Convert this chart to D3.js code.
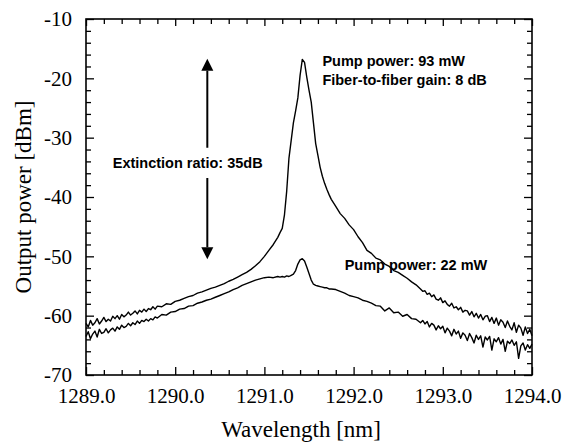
<!DOCTYPE html>
<html>
<head>
<meta charset="utf-8">
<script src="https://cdn.jsdelivr.net/npm/d3@7"></script>
<style>
  html, body { margin: 0; padding: 0; background: #fff; }
  svg { display: block; }
</style>
</head>
<body>
<div id="chart"></div>
<script>
// wavelength samples [nm] (denser in the noisy tails and around the gain peak)
const wavelength = [
  1289.000, 1289.025, 1289.050, 1289.075, 1289.100, 1289.125, 1289.150, 1289.175, 1289.200, 1289.225,
  1289.250, 1289.275, 1289.300, 1289.325, 1289.350, 1289.375, 1289.400, 1289.425, 1289.450, 1289.475,
  1289.500, 1289.525, 1289.550, 1289.575, 1289.600, 1289.625, 1289.650, 1289.675, 1289.700, 1289.725,
  1289.750, 1289.775, 1289.800,
  1289.85, 1289.90, 1289.95, 1290.00, 1290.05, 1290.10, 1290.15, 1290.20, 1290.25, 1290.30,
  1290.35, 1290.40, 1290.45, 1290.50, 1290.55, 1290.60, 1290.65, 1290.70, 1290.75, 1290.80,
  1290.85, 1290.90, 1290.95, 1291.00, 1291.05, 1291.10, 1291.15,
  1291.175, 1291.200, 1291.225, 1291.250, 1291.275, 1291.300, 1291.325, 1291.350,
  1291.375, 1291.400, 1291.425, 1291.450, 1291.475, 1291.500, 1291.525, 1291.550,
  1291.575, 1291.600, 1291.625, 1291.650, 1291.675, 1291.700, 1291.725, 1291.750,
  1291.80, 1291.85, 1291.90, 1291.95, 1292.00, 1292.05, 1292.10, 1292.15, 1292.20, 1292.25,
  1292.30, 1292.35, 1292.40, 1292.45, 1292.50, 1292.55, 1292.60, 1292.65, 1292.70, 1292.75,
  1292.775, 1292.800, 1292.825, 1292.850, 1292.875, 1292.900, 1292.925, 1292.950, 1292.975,
  1293.000, 1293.025, 1293.050, 1293.075, 1293.100, 1293.125, 1293.150, 1293.175, 1293.200, 1293.225,
  1293.250, 1293.275, 1293.300, 1293.325, 1293.350, 1293.375, 1293.400, 1293.425, 1293.450, 1293.475,
  1293.500, 1293.525, 1293.550, 1293.575, 1293.600, 1293.625, 1293.650, 1293.675, 1293.700, 1293.725,
  1293.750, 1293.775, 1293.800, 1293.825, 1293.850, 1293.875, 1293.900, 1293.925, 1293.950, 1293.975,
  1294.000
];

// output power [dBm], pump 93 mW
const power93 = [
  -61.3, -61.9, -60.8, -61.6, -61.2, -60.5, -61.4, -60.9, -60.3, -61.0,
  -60.6, -60.9, -60.1, -60.5, -60.0, -60.6, -59.8, -60.2, -59.9, -59.4,
  -59.9, -59.6, -59.2, -59.7, -59.1, -59.4, -58.9, -59.3, -58.8, -59.0,
  -58.5, -58.9, -58.4,
  -58.5, -58.0, -58.1, -57.6, -57.4, -57.1, -56.8, -56.6, -56.2, -56.0,
  -55.7, -55.4, -55.2, -54.9, -54.6, -54.2, -53.9, -53.5, -53.1, -52.7,
  -52.2, -51.6, -50.9, -50.0, -49.0, -48.0, -46.8,
  -46.0, -45.3, -43.0, -39.0, -33.5, -30.5, -27.5, -25.5,
  -23.3, -19.5, -16.8, -17.3, -19.8, -22.0, -24.0, -27.5,
  -31.0, -33.0, -35.0, -36.5, -37.7, -38.7, -39.6, -40.4,
  -41.6, -42.8, -43.6, -44.7, -45.5, -46.7, -47.7, -49.0, -49.5, -50.3,
  -50.6, -51.3, -51.7, -52.4, -52.7, -53.2, -53.7, -54.3, -54.8, -55.5,
  -55.9, -55.8, -56.4, -56.2, -56.8, -56.5, -57.2, -57.4, -57.0,
  -57.8, -57.5, -58.1, -58.4, -57.9, -58.7, -58.5, -59.0, -58.6, -59.4,
  -59.1, -59.2, -59.9, -59.3, -60.2, -59.6, -60.4, -59.8, -60.7, -60.1,
  -60.0, -61.0, -60.3, -61.3, -60.4, -61.6, -60.7, -61.1, -62.0, -60.9,
  -61.8, -62.4, -61.2, -62.8, -61.6, -62.1, -63.3, -61.9, -63.0, -62.3,
  -63.4
];

// output power [dBm], pump 22 mW
const power22 = [
  -63.5, -62.7, -63.9, -63.1, -62.6, -63.6, -62.3, -63.0, -62.8, -62.2,
  -62.9, -62.4, -62.1, -62.6, -61.9, -62.3, -61.6, -62.0, -61.8, -61.3,
  -61.7, -61.2, -61.5, -60.9, -61.3, -60.8, -61.0, -60.6, -60.9, -60.5,
  -60.7, -60.2, -60.4,
  -59.8, -59.9, -59.4, -59.3, -58.9, -58.8, -58.4, -58.3, -57.9, -57.7,
  -57.4, -57.2, -56.9, -56.6, -56.3, -56.0, -55.6, -55.3, -54.9, -54.6,
  -54.3, -54.0, -53.8, -53.6, -53.5, -53.6, -53.4,
  -53.5, -53.4, -53.5, -53.3, -53.4, -53.2, -53.0, -52.4,
  -51.3, -50.6, -50.4, -50.8, -51.8, -52.9, -54.0, -54.7,
  -54.9, -55.0, -55.1, -55.2, -55.3, -55.3, -55.5, -55.5,
  -55.6, -55.9, -56.2, -56.6, -56.8, -57.0, -57.4, -57.6, -57.9, -58.3,
  -58.4, -59.2, -58.7, -59.5, -59.4, -60.1, -59.8, -60.5, -60.6, -61.2,
  -60.8, -61.4, -61.0, -61.9, -61.3, -61.6, -62.4, -61.7, -62.2,
  -61.8, -62.9, -62.1, -62.6, -63.4, -62.3, -63.1, -62.6, -63.8, -62.9,
  -63.3, -64.2, -63.0, -63.7, -64.6, -63.3, -64.0, -63.4, -65.3, -63.6,
  -64.1, -63.5, -65.8, -63.9, -64.4, -63.7, -64.8, -64.0, -66.0, -64.3,
  -64.7, -64.1, -65.0, -64.4, -67.2, -65.1, -64.6, -65.8, -64.9, -65.5,
  -64.8
];

const xTicks = [1289, 1290, 1291, 1292, 1293, 1294];
const yTicks = [-70, -60, -50, -40, -30, -20, -10];

const width = 567, height = 443;
const margin = {top: 19, right: 35, bottom: 68, left: 86};

const x = d3.scaleLinear([1289, 1294], [margin.left, width - margin.right]);
const y = d3.scaleLinear([-70, -10], [height - margin.bottom, margin.top]);

const svg = d3.select("#chart").append("svg")
    .attr("width", width)
    .attr("height", height)
    .attr("viewBox", [0, 0, width, height]);

const serif = "'Liberation Serif', 'Times New Roman', serif";
const sans = "'Liberation Sans', Arial, sans-serif";

// minor ticks every 0.2 nm / 2 dB
const xMinor = d3.range(1289, 1294.001, 0.2).filter(v => Math.abs(v - Math.round(v)) > 0.01);
const yMinor = d3.range(-70, -9.999, 2).filter(v => v % 10 !== 0);

function ticks(g, axis) {
  g.call(axis);
  g.select(".domain").remove();
  g.selectAll(".tick line").attr("stroke", "#000").attr("stroke-width", 1.3);
}

// bottom
svg.append("g").attr("transform", `translate(0,${y(-70)})`)
    .call(ticks, d3.axisBottom(x).tickValues(xTicks).tickSize(-8).tickPadding(13)
      .tickFormat(d3.format(".1f")))
    .selectAll("text")
    .attr("font-family", serif).attr("font-size", 21).attr("fill", "#000");
svg.append("g").attr("transform", `translate(0,${y(-70)})`)
    .call(ticks, d3.axisBottom(x).tickValues(xMinor).tickSize(-5).tickFormat(""));
// top
svg.append("g").attr("transform", `translate(0,${y(-10)})`)
    .call(ticks, d3.axisTop(x).tickValues(xTicks).tickSize(-7).tickFormat(""));
svg.append("g").attr("transform", `translate(0,${y(-10)})`)
    .call(ticks, d3.axisTop(x).tickValues(xMinor).tickSize(-5).tickFormat(""));
// left
svg.append("g").attr("transform", `translate(${x(1289)},0)`)
    .call(ticks, d3.axisLeft(y).tickValues(yTicks).tickSize(-8).tickPadding(14)
      .tickFormat(d => String(d)))
    .selectAll("text")
    .attr("font-family", serif).attr("font-size", 21).attr("fill", "#000");
svg.append("g").attr("transform", `translate(${x(1289)},0)`)
    .call(ticks, d3.axisLeft(y).tickValues(yMinor).tickSize(-5).tickFormat(""));
// right
svg.append("g").attr("transform", `translate(${x(1294)},0)`)
    .call(ticks, d3.axisRight(y).tickValues(yTicks).tickSize(-8).tickFormat(""));
svg.append("g").attr("transform", `translate(${x(1294)},0)`)
    .call(ticks, d3.axisRight(y).tickValues(yMinor).tickSize(-5).tickFormat(""));

// frame
svg.append("rect")
    .attr("x", x(1289)).attr("y", y(-10))
    .attr("width", x(1294) - x(1289)).attr("height", y(-70) - y(-10))
    .attr("fill", "none").attr("stroke", "#000").attr("stroke-width", 1.6);

// axis titles
svg.append("text")
    .attr("x", (x(1289) + x(1294)) / 2 - 8).attr("y", 437)
    .attr("text-anchor", "middle")
    .attr("font-family", serif).attr("font-size", 23)
    .text("Wavelength [nm]");

svg.append("text")
    .attr("transform", `translate(31,${(y(-10) + y(-70)) / 2}) rotate(-90)`)
    .attr("text-anchor", "middle")
    .attr("font-family", serif).attr("font-size", 23)
    .text("Output power [dBm]");

// spectra
const line = d3.line().x((d, i) => x(wavelength[i])).y(d => y(d));

[power93, power22].forEach(series => {
  svg.append("path")
      .datum(series)
      .attr("fill", "none")
      .attr("stroke", "#000")
      .attr("stroke-width", 1.4)
      .attr("stroke-linejoin", "round")
      .attr("d", line);
});

// extinction ratio arrow
const arrowWl = 1290.36, arrowTop = -16.7, arrowBottom = -50.5;
const ax = x(arrowWl), head = 12, hw = 6;
svg.append("line")
    .attr("x1", ax).attr("x2", ax)
    .attr("y1", y(arrowTop) + head).attr("y2", y(-31.7))
    .attr("stroke", "#000").attr("stroke-width", 2);
svg.append("line")
    .attr("x1", ax).attr("x2", ax)
    .attr("y1", y(-36.8)).attr("y2", y(arrowBottom) - head)
    .attr("stroke", "#000").attr("stroke-width", 2);
svg.append("path")
    .attr("d", `M${ax},${y(arrowTop)}L${ax - hw},${y(arrowTop) + head}L${ax + hw},${y(arrowTop) + head}Z`);
svg.append("path")
    .attr("d", `M${ax},${y(arrowBottom)}L${ax - hw},${y(arrowBottom) - head}L${ax + hw},${y(arrowBottom) - head}Z`);

// annotations
const notes = [
  {wl: 1289.30, db: -35.1, text: "Extinction ratio: 35dB"},
  {wl: 1291.65, db: -17.9, text: "Pump power: 93 mW"},
  {wl: 1291.65, db: -21.1, text: "Fiber-to-fiber gain: 8 dB"},
  {wl: 1291.90, db: -52.3, text: "Pump power: 22 mW"}
];
svg.append("g")
    .attr("font-family", sans).attr("font-size", 14.5).attr("font-weight", "bold")
  .selectAll("text")
  .data(notes)
  .join("text")
    .attr("x", d => x(d.wl))
    .attr("y", d => y(d.db))
    .text(d => d.text);
</script>
</body>
</html>
